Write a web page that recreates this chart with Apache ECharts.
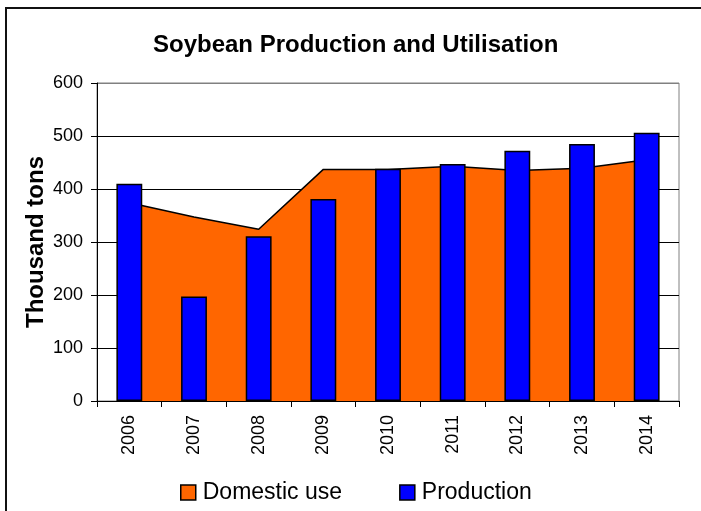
<!DOCTYPE html>
<html>
<head>
<meta charset="utf-8">
<script src="https://cdn.jsdelivr.net/npm/echarts@6/dist/echarts.min.js"></script>
<style>html,body{margin:0;padding:0;background:#fff;}#c{width:701px;height:511px;}</style>
</head>
<body>
<div id="c"></div>
<script>
const categories = ['2006','2007','2008','2009','2010','2011','2012','2013','2014'];
const domesticUse = [374, 347, 324, 437, 437, 443, 435, 439, 455];
const production = [410, 197, 311, 381, 438, 447, 472, 485, 506];
const yTicks = [0, 100, 200, 300, 400, 500, 600];

const FONT = "'Liberation Sans', Arial, sans-serif";
const chart = echarts.init(document.getElementById('c'), null, {renderer: 'canvas'});
chart.setOption({
  animation: false,
  backgroundColor: '#fff',
  textStyle: {fontFamily: FONT, color: '#000'},
  title: {
    text: 'Soybean Production and Utilisation',
    left: 153, top: 33, padding: 0,
    textStyle: {fontFamily: FONT, fontSize: 24, fontWeight: 'bold', color: '#000'}
  },
  graphic: [{
    type: 'rect', z: -10, silent: true,
    shape: {x: 6, y: 8, width: 720, height: 530},
    style: {fill: 'none', stroke: '#111', lineWidth: 2}
  }],
  legend: {
    left: 175, top: 476,
    itemWidth: 15, itemHeight: 15, itemGap: 57,
    textStyle: {fontFamily: FONT, fontSize: 23, color: '#000', padding: [0, 0, 0, 2]},
    data: [
      {name: 'Domestic use', icon: 'rect', itemStyle: {color: '#FF6600', borderColor: '#000', borderWidth: 1.5}},
      {name: 'Production', icon: 'rect', itemStyle: {color: '#0000FF', borderColor: '#000', borderWidth: 1.5}}
    ]
  },
  grid: {left: 97, right: 22, top: 83, bottom: 110, show: true, borderColor: '#808080', borderWidth: 1},
  xAxis: {
    type: 'category', data: categories, boundaryGap: true,
    axisLine: {lineStyle: {color: '#000', width: 1}},
    axisTick: {show: true, alignWithLabel: false, length: 6, lineStyle: {color: '#000'}},
    axisLabel: {rotate: 90, margin: 14, fontSize: 18, fontFamily: FONT, color: '#000'}
  },
  yAxis: {
    type: 'value', min: yTicks[0], max: yTicks[yTicks.length - 1], interval: 100,
    name: 'Thousand tons', nameLocation: 'middle', nameGap: 49, nameMoveOverlap: false,
    nameTextStyle: {fontFamily: FONT, fontSize: 24, fontWeight: 'bold', color: '#000'},
    axisLine: {show: true, lineStyle: {color: '#000', width: 1}},
    axisTick: {show: true, length: 6, lineStyle: {color: '#000'}},
    axisLabel: {margin: 14, fontSize: 18, fontFamily: FONT, color: '#000'},
    splitLine: {show: true, lineStyle: {color: ['#000','#000','#000','#000','#000','#000','#808080'], width: 1}}
  },
  series: [
    {
      name: 'Domestic use', type: 'line', data: domesticUse, z: 2,
      symbol: 'none', smooth: false,
      itemStyle: {color: '#FF6600'},
      lineStyle: {color: '#000', width: 1.5},
      areaStyle: {color: '#FF6600', opacity: 1}
    },
    {
      name: 'Production', type: 'bar', data: production, z: 3,
      barWidth: '40%',
      itemStyle: {color: '#0000FF', borderColor: '#000', borderWidth: 1.5}
    }
  ]
});
</script>
</body>
</html>
